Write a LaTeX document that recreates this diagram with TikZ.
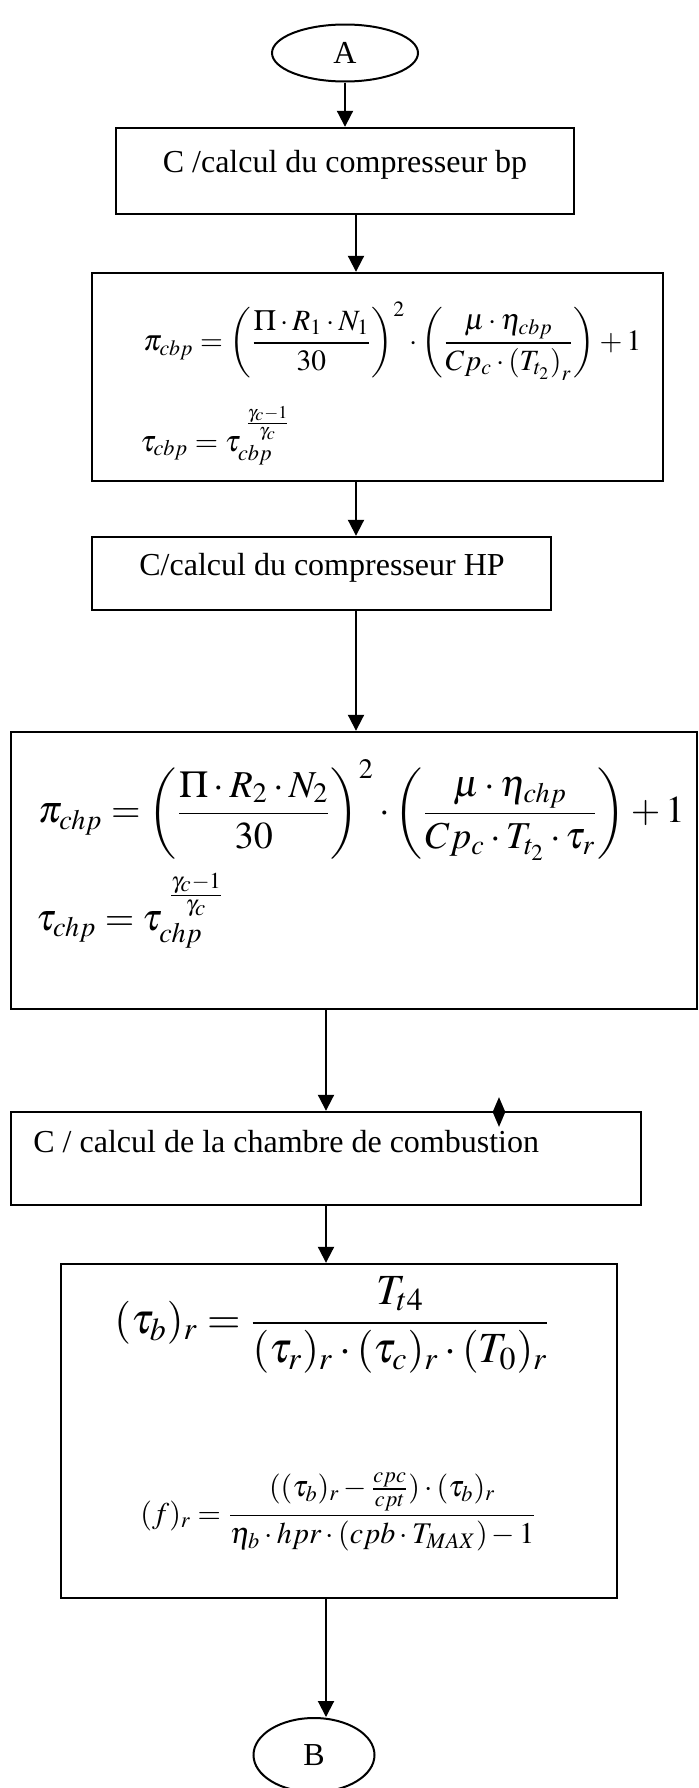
\documentclass[tikz,border=0pt]{standalone}
\usepackage{amsmath}
\usepackage{mathptmx}
\usepackage{fontspec}
\setmainfont{Liberation Serif}
\usetikzlibrary{arrows.meta, shapes.geometric}

\begin{document}
\begin{tikzpicture}[x=0.5pt, y=-0.5pt,
        % boîtes de calcul
        calcbox/.style={rectangle, draw, line width=1.2pt, inner sep=0pt},
        % connecteurs A et B
        conn/.style={ellipse, draw, line width=1pt, inner sep=0pt, font=\fontsize{16}{19}\selectfont},
        % flèches
        arrow/.style={-{Triangle[width=8pt, length=8pt]}, line width=1pt},
        % titres des boîtes
        titre/.style={inner sep=0pt, font=\fontsize{16}{19}\selectfont},
        % formules
        formule/.style={inner sep=0pt}
    ]
    \useasboundingbox (0,0) rectangle (699,1788);

    % colonnes des flèches
    \coordinate (colU) at (356,0);
    \coordinate (colL) at (326,0);

    % noeuds
    \node[conn, minimum width=73pt, minimum height=28.5pt] (A) at (345,53) {A};
    \node[calcbox, minimum width=229pt, minimum height=43pt] (box1) at (345,171) {};
    \node[calcbox, minimum width=285.5pt, minimum height=104pt] (box2) at (377.5,377) {};
    \node[calcbox, minimum width=229.5pt, minimum height=36.5pt] (box3) at (321.5,573.5) {};
    \node[calcbox, minimum width=343pt, minimum height=138.5pt] (box4) at (354,870.5) {};
    \node[calcbox, minimum width=315pt, minimum height=46.5pt] (box5) at (326,1158.5) {};
    \node[calcbox, minimum width=278pt, minimum height=167pt] (box6) at (339,1431) {};
    \node[conn, minimum width=60.5pt, minimum height=37pt] (B) at (314,1755) {B};
    \node[diamond, fill, inner sep=0pt, minimum width=6.5pt, minimum height=15pt] (mark) at (499,1112) {};

    % textes
    \node[titre, anchor=base] (t1) at (345,172) {C /calcul du compresseur bp};
    \node[titre, anchor=base] (t3) at (322,575) {C/calcul du compresseur HP};
    \node[titre, anchor=base west] (t5) at (33,1152) {C / calcul de la chambre de combustion};

    % formules
    \node[formule, anchor=west, font=\fontsize{14.7}{18}\selectfont] (f1) at (143,341)
        {$\pi_{cbp}=\left(\dfrac{\Pi\cdot R_1\cdot N_1}{30}\right)^{2}\cdot\left(\dfrac{\mu\cdot\eta_{cbp}}{Cp_c\cdot\left(T_{t_2}\right)_r}\right)+1$};
    \node[formule, anchor=base west, font=\fontsize{15}{18}\selectfont] (f2) at (140,451)
        {$\tau_{cbp}=\tau_{cbp}^{\;\frac{\gamma_c-1}{\gamma_c}}$};
    \node[formule, anchor=west, font=\fontsize{19}{23}\selectfont] (f3) at (38,810)
        {$\pi_{chp}=\left(\dfrac{\Pi\cdot R_2\cdot N_2}{30}\right)^{2}\cdot\left(\dfrac{\mu\cdot\eta_{chp}}{Cp_c\cdot T_{t_2}\cdot\tau_r}\right)+1$};
    \node[formule, anchor=base west, font=\fontsize{19}{23}\selectfont] (f4) at (36,930)
        {$\tau_{chp}=\tau_{chp}^{\;\frac{\gamma_c-1}{\gamma_c}}$};
    \node[formule, anchor=west, font=\fontsize{21.5}{26}\selectfont] (f5) at (114,1325)
        {$(\tau_b)_r=\dfrac{T_{t4}}{(\tau_r)_r\cdot(\tau_c)_r\cdot(T_0)_r}$};
    \node[formule, anchor=west, font=\fontsize{15}{18}\selectfont] (f6) at (140,1512)
        {$(f)_r=\dfrac{((\tau_b)_r-\frac{cpc}{cpt})\cdot(\tau_b)_r}{\eta_b\cdot hpr\cdot(cpb\cdot T_{MAX})-1}$};

    % flèches
    \draw[arrow] (A) -- (box1);
    \draw[arrow] (box1.south -| colU) -- (box2.north -| colU);
    \draw[arrow] (box2.south -| colU) -- (box3.north -| colU);
    \draw[arrow] (box3.south -| colU) -- (box4.north -| colU);
    \draw[arrow] (box4.south -| colL) -- (box5.north -| colL);
    \draw[arrow] (box5.south -| colL) -- (box6.north -| colL);
    \draw[arrow] (box6.south -| colL) -- (B.north -| colL);
\end{tikzpicture}
\end{document}
